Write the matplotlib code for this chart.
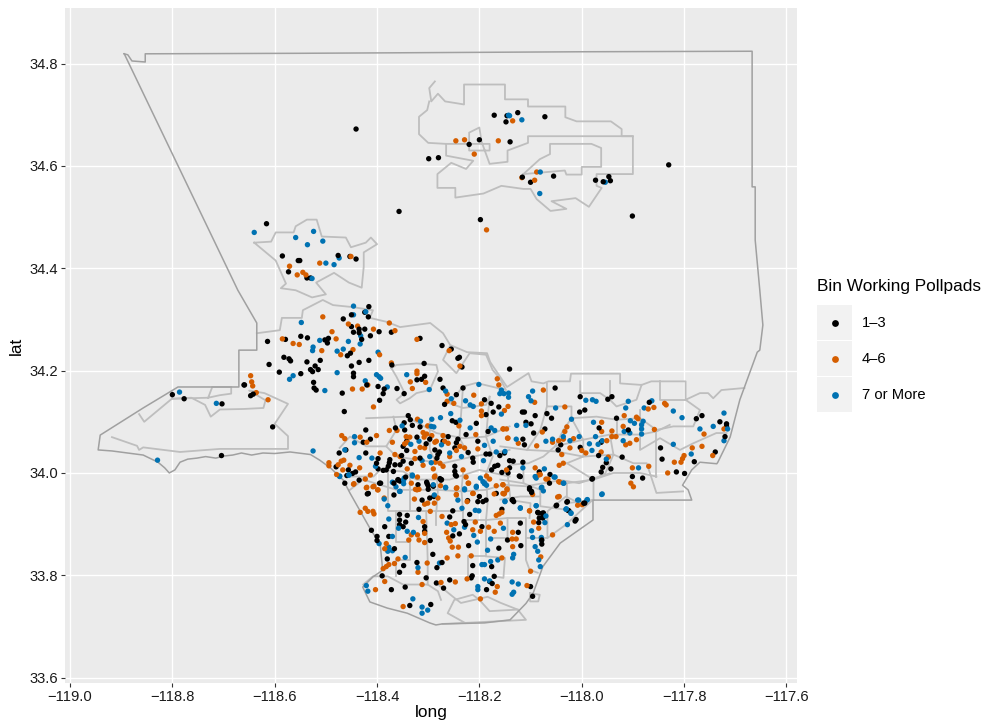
import matplotlib
matplotlib.use("Agg")
import matplotlib.pyplot as plt
from matplotlib.patches import Rectangle

plt.rcParams['font.family'] = ['Liberation Sans', 'DejaVu Sans']

# polling places (long, lat)
black_pts = [
    (-118.416,34.325),(-118.424,34.314),(-118.417,34.305),(-118.466,34.301),(-118.450,34.309),(-118.450,34.286),
    (-118.435,34.281),(-118.424,34.281),(-118.446,34.275),(-118.435,34.274),(-118.413,34.268),(-118.396,34.276),
    (-118.372,34.275),(-118.430,34.261),(-118.316,34.263),(-118.614,34.257),(-118.579,34.261),(-118.549,34.267),
    (-118.536,34.264),(-118.495,34.263),(-118.502,34.260),(-118.497,34.254),(-118.273,34.249),(-118.255,34.242),
    (-118.458,34.229),(-118.452,34.234),(-118.582,34.226),(-118.572,34.223),(-118.569,34.219),(-118.511,34.220),
    (-118.537,34.217),(-118.611,34.212),(-118.416,34.220),(-118.435,34.216),(-118.450,34.209),(-118.521,34.209),
    (-118.515,34.202),(-118.530,34.202),(-118.526,34.198),(-118.591,34.197),(-118.549,34.194),(-118.446,34.195),
    (-118.446,34.188),(-118.371,34.211),(-118.308,34.214),(-118.239,34.226),(-118.242,34.224),(-118.234,34.207),
    (-118.141,34.203),(-118.277,34.183),(-118.307,34.189),(-118.313,34.183),(-118.322,34.182),(-118.524,34.177),
    (-118.523,34.166),(-118.519,34.162),(-118.659,34.172),(-118.647,34.151),(-118.642,34.154),(-118.398,34.169),
    (-118.420,34.172),(-118.386,34.164),(-118.388,34.155),(-118.468,34.156),(-118.395,34.142),(-118.361,34.165),
    (-118.347,34.155),(-118.271,34.166),(-118.232,34.166),(-118.245,34.153),(-118.268,34.134),(-118.464,34.120),
    (-118.604,34.090),(-118.190,34.143),(-118.177,34.136),(-118.173,34.119),(-118.162,34.129),(-118.187,34.114),
    (-118.253,34.102),(-118.246,34.099),(-118.339,34.112),(-118.335,34.104),(-118.331,34.093),(-118.347,34.098),
    (-118.364,34.088),(-118.346,34.084),(-118.422,34.084),(-118.316,34.090),(-118.413,34.066),(-118.427,34.060),
    (-118.422,34.039),(-118.474,34.039),(-118.461,34.045),(-118.398,34.028),(-118.376,34.020),(-118.378,34.013),
    (-118.342,34.044),(-118.352,34.034),(-118.355,34.016),(-118.359,33.987),(-118.349,34.023),(-118.398,34.008),
    (-118.388,34.005),(-118.456,34.006),(-118.442,34.002),(-118.448,33.999),(-118.459,33.995),(-118.480,34.012),
    (-118.463,33.980),(-118.417,33.960),(-118.393,33.980),(-118.303,33.982),(-118.300,33.975),(-118.277,33.989),
    (-118.289,33.954),(-118.304,34.057),(-118.281,34.036),(-118.278,34.041),(-118.283,34.029),(-118.271,34.062),
    (-118.261,34.071),(-118.242,34.066),(-118.245,34.059),(-118.248,34.049),(-118.212,34.021),(-118.213,34.029),
    (-118.248,34.013),(-118.248,34.003),(-118.245,33.994),(-118.206,34.097),(-118.183,34.081),(-118.203,34.062),
    (-118.187,34.037),(-118.180,34.037),(-118.160,34.034),(-118.151,34.039),(-118.141,34.010),(-118.164,34.015),
    (-118.170,34.013),(-118.144,34.000),(-118.052,34.166),(-118.003,34.149),(-117.949,34.144),(-117.941,34.149),
    (-117.868,34.138),(-118.004,34.119),(-117.994,34.123),(-118.068,34.116),(-118.059,34.107),(-118.091,34.112),
    (-118.116,34.119),(-118.112,34.119),(-117.932,34.107),(-117.776,34.106),(-117.765,34.112),(-117.730,34.100),
    (-117.717,34.096),(-117.717,34.091),(-117.720,34.071),(-118.109,34.099),(-118.099,34.096),(-118.072,34.086),
    (-118.094,34.078),(-117.966,34.088),(-117.909,34.084),(-117.962,34.060),(-118.003,34.050),(-118.046,34.045),
    (-118.041,34.055),(-117.967,34.034),(-117.921,34.031),(-117.846,34.049),(-117.843,34.027),(-117.739,34.041),
    (-117.780,34.022),(-117.952,34.020),(-117.959,34.011),(-117.943,34.008),(-117.962,34.002),(-117.979,33.989),
    (-117.901,33.993),(-117.881,33.990),(-117.815,34.002),(-117.799,33.999),(-118.112,34.055),(-118.115,34.066),
    (-118.141,34.024),(-118.134,34.023),(-118.115,34.021),(-118.120,33.993),(-118.083,34.002),(-118.062,33.997),
    (-118.063,33.980),(-118.102,33.971),(-118.098,33.964),(-118.049,33.937),(-118.028,33.944),(-118.025,33.926),
    (-117.994,33.941),(-118.085,33.922),(-118.075,33.922),(-118.156,34.001),(-118.135,33.948),(-118.011,33.909),
    (-118.419,33.959),(-118.367,33.957),(-118.367,33.980),(-118.395,33.980),(-118.435,33.986),(-118.359,33.986),
    (-118.344,33.992),(-118.320,33.977),(-118.302,33.979),(-118.300,33.968),(-118.312,33.947),(-118.318,33.929),
    (-118.297,33.951),(-118.275,33.986),(-118.247,33.996),(-118.200,33.954),(-118.203,33.944),(-118.193,33.944),
    (-118.187,33.947),(-118.223,33.946),(-118.252,33.926),(-118.219,33.919),(-118.258,33.914),(-118.356,33.919),
    (-118.341,33.917),(-118.356,33.908),(-118.356,33.899),(-118.344,33.904),(-118.349,33.895),(-118.307,33.895),
    (-118.307,33.886),(-118.385,33.895),(-118.411,33.888),(-118.400,33.876),(-118.400,33.868),(-118.377,33.876),
    (-118.296,33.868),(-118.366,33.852),(-118.380,33.832),(-118.348,33.819),(-118.356,33.806),(-118.390,33.799),
    (-118.372,33.772),(-118.345,33.777),(-118.336,33.741),(-118.295,33.743),(-118.291,33.841),(-118.322,33.825),
    (-118.273,33.825),(-118.283,33.815),(-118.304,33.795),(-118.284,33.785),(-118.270,33.775),(-118.258,33.791),
    (-118.213,33.819),(-118.214,33.799),(-118.216,33.795),(-118.176,33.817),(-118.171,33.798),(-118.180,33.788),
    (-118.175,33.784),(-118.186,33.772),(-118.221,33.858),(-118.230,33.905),(-118.227,33.899),(-118.239,33.881),
    (-118.252,33.877),(-118.195,33.895),(-118.162,33.853),(-118.145,33.869),(-118.124,33.884),(-118.120,33.902),
    (-118.119,33.858),(-118.156,33.929),(-118.136,33.947),(-118.133,33.944),(-118.102,33.968),(-118.098,33.962),
    (-118.086,33.923),(-118.078,33.921),(-118.083,33.912),(-118.076,33.912),(-118.084,33.903),(-118.078,33.869),
    (-118.078,33.861),(-118.013,33.906),(-118.027,33.927),(-118.050,33.936),(-118.029,33.943),(-117.996,33.941),
    (-117.980,33.988),(-118.100,33.778),(-118.096,33.759),(-118.122,33.994),(-118.167,33.960),
    (-118.441,34.672),(-118.357,34.511),(-118.299,34.614),(-118.616,34.487),(-118.585,34.424),(-118.554,34.415),
    (-118.551,34.415),(-118.573,34.393),(-118.537,34.381),(-118.530,34.381),(-118.476,34.425),(-118.441,34.418),
    (-118.453,34.423),(-118.280,34.616),(-118.220,34.642),(-118.200,34.651),(-118.140,34.647),(-118.171,34.699),
    (-118.148,34.686),(-118.146,34.698),(-118.125,34.704),(-118.072,34.696),(-117.830,34.602),(-118.116,34.578),
    (-118.100,34.568),(-118.055,34.580),(-117.973,34.572),(-117.958,34.569),(-117.947,34.579),(-117.944,34.571),
    (-117.901,34.502),(-118.198,34.495),(-118.800,34.153),(-118.777,34.145),(-118.703,34.135),(-118.704,34.034),
    (-118.660,34.172),
    (-118.368,34.003),(-118.382,34.006),(-118.333,34.019),(-118.290,33.974),(-118.274,33.987),(-118.355,33.984),
    (-118.316,34.029),(-118.287,34.045),(-118.349,34.052),(-118.342,34.062),(-118.401,34.019),(-118.365,34.016),
    (-118.375,34.026),(-118.322,34.070),(-118.297,34.066),(-118.226,34.075),(-118.222,34.040),(-118.176,34.006),
]

orange_pts = [
    (-118.506,34.305),(-118.456,34.291),(-118.438,34.287),(-118.407,34.281),(-118.376,34.293),(-118.365,34.278),
    (-118.488,34.276),(-118.480,34.262),(-118.585,34.262),(-118.564,34.253),(-118.552,34.251),(-118.322,34.261),
    (-118.508,34.239),(-118.447,34.241),(-118.471,34.231),(-118.395,34.231),(-118.259,34.239),(-118.372,34.215),
    (-118.238,34.209),(-118.322,34.199),(-118.322,34.194),(-118.335,34.178),(-118.305,34.177),(-118.331,34.165),
    (-118.647,34.190),(-118.645,34.178),(-118.643,34.170),(-118.636,34.157),(-118.613,34.143),(-118.448,34.164),
    (-118.429,34.164),(-118.418,34.172),(-118.407,34.129),(-118.263,34.154),(-118.263,34.140),(-118.250,34.136),
    (-118.211,34.152),(-118.196,34.135),(-118.196,34.121),(-118.196,34.112),(-118.165,34.184),(-118.162,34.172),
    (-118.144,34.130),(-118.151,34.122),(-118.144,34.068),(-118.154,34.086),(-118.147,34.086),(-118.321,34.105),
    (-118.376,34.083),(-118.361,34.083),(-118.343,34.071),(-118.336,34.070),(-118.469,34.073),(-118.463,34.067),
    (-118.433,34.070),(-118.401,34.073),(-118.370,34.060),(-118.346,34.057),(-118.341,34.060),(-118.310,34.079),
    (-118.303,34.076),(-118.293,34.073),(-118.301,34.092),(-118.308,34.070),(-118.284,34.062),(-118.287,34.060),
    (-118.271,34.073),(-118.268,34.062),(-118.261,34.058),(-118.240,34.092),(-118.207,34.075),(-118.245,34.044),
    (-118.229,34.049),(-118.203,34.047),(-118.238,34.052),(-118.307,34.049),(-118.271,34.013),(-118.286,34.021),
    (-118.310,34.015),(-118.290,34.008),(-118.365,34.036),(-118.355,34.032),(-118.326,34.028),(-118.420,34.060),
    (-118.494,34.020),(-118.494,34.014),(-118.476,34.016),(-118.470,34.023),(-118.465,34.025),(-118.479,33.997),
    (-118.467,34.006),(-118.453,34.015),(-118.434,34.010),(-118.413,33.996),(-118.423,33.988),(-118.445,33.979),
    (-118.420,33.972),(-118.406,33.974),(-118.398,33.967),(-118.386,33.951),(-118.341,34.008),(-118.321,33.992),
    (-118.333,33.980),(-118.325,33.968),(-118.318,33.968),(-118.287,33.994),(-118.244,33.971),(-118.245,33.958),
    (-118.222,33.980),(-118.212,33.960),(-118.186,33.994),(-118.167,33.975),(-118.154,33.960),(-118.147,34.006),
    (-118.075,34.162),(-118.092,34.138),(-118.033,34.129),(-117.917,34.112),(-117.893,34.109),(-117.890,34.106),
    (-117.838,34.136),(-117.835,34.133),(-117.859,34.128),(-117.870,34.125),(-118.029,34.090),(-118.033,34.081),
    (-118.077,34.080),(-118.153,34.086),(-118.145,34.068),(-118.124,34.058),(-118.088,34.053),(-118.057,34.060),
    (-118.045,34.063),(-118.036,34.066),(-118.016,34.067),(-118.023,34.049),(-118.000,34.044),(-117.992,34.039),
    (-118.039,34.036),(-118.036,34.019),(-118.044,34.015),(-117.961,34.099),(-117.961,34.081),(-117.941,34.082),
    (-117.941,34.071),(-117.933,34.071),(-117.951,34.063),(-117.919,34.091),(-117.858,34.085),(-117.893,34.065),
    (-117.906,34.058),(-117.914,34.055),(-117.962,34.041),(-117.948,34.031),(-117.901,34.010),(-117.869,34.013),
    (-117.832,34.000),(-117.819,34.021),(-117.806,34.021),(-117.803,34.028),(-117.800,34.034),(-117.784,34.049),
    (-117.765,34.052),(-117.761,34.076),(-117.744,34.034),(-117.722,34.086),(-117.904,33.980),(-117.899,33.973),
    (-118.091,34.010),(-118.081,33.997),(-118.066,33.988),(-118.043,33.982),(-118.154,33.977),(-118.146,33.967),
    (-118.151,33.960),(-118.096,33.958),(-118.044,33.954),(-118.008,33.937),(-118.102,33.926),
    (-118.446,33.978),(-118.421,33.971),(-118.408,33.973),(-118.399,33.967),(-118.423,33.931),(-118.433,33.923),
    (-118.418,33.925),(-118.408,33.925),(-118.406,33.920),(-118.322,33.967),(-118.327,33.949),(-118.307,33.939),
    (-118.296,33.925),(-118.301,33.941),(-118.288,33.941),(-118.281,33.951),(-118.310,33.905),(-118.307,33.882),
    (-118.321,33.879),(-118.333,33.879),(-118.338,33.869),(-118.318,33.869),(-118.307,33.864),(-118.273,33.915),
    (-118.255,33.899),(-118.247,33.901),(-118.264,33.884),(-118.260,33.873),(-118.257,33.867),(-118.253,33.855),
    (-118.241,33.855),(-118.242,33.838),(-118.263,33.834),(-118.216,33.838),(-118.302,33.824),(-118.320,33.806),
    (-118.359,33.832),(-118.366,33.823),(-118.377,33.821),(-118.388,33.813),(-118.382,33.817),(-118.382,33.862),
    (-118.385,33.852),(-118.385,33.788),(-118.403,33.772),(-118.349,33.739),(-118.312,33.782),(-118.275,33.786),
    (-118.247,33.787),(-118.224,33.793),(-118.165,33.778),(-118.169,33.767),(-118.198,33.754),(-118.107,33.780),
    (-118.100,33.808),(-118.156,33.834),(-118.136,33.871),(-118.128,33.871),(-118.135,33.884),(-118.135,33.856),
    (-118.057,33.879),(-118.159,33.902),(-118.171,33.886),(-118.182,33.894),(-118.213,33.889),(-118.198,33.886),
    (-118.208,33.904),(-118.167,33.917),(-118.161,33.920),(-118.156,33.923),(-118.102,33.926),(-118.094,33.904),
    (-118.084,33.892),(-118.080,33.836),(-117.999,33.938),(-118.047,33.953),(-118.213,33.960),(-118.245,33.970),
    (-118.245,33.957),(-118.224,33.944),(-118.221,33.980),(-118.226,33.992),(-118.180,33.988),(-118.154,33.977),
    (-118.146,33.969),(-118.152,33.959),(-118.171,33.959),(-118.084,33.996),(-118.070,33.988),(-118.045,33.983),
    (-118.288,33.992),(-118.276,33.975),
    (-118.571,34.404),(-118.556,34.387),(-118.545,34.392),(-118.539,34.387),(-118.512,34.410),(-118.451,34.423),
    (-118.246,34.649),(-118.229,34.651),(-118.210,34.623),(-118.163,34.649),(-118.135,34.688),(-118.088,34.588),
    (-118.092,34.572),(-118.117,34.577),(-118.186,34.475),
    (-118.326,34.042),(-118.394,34.039),(-118.277,34.019),(-118.232,34.006),(-118.258,34.032),(-118.316,34.050),
]

blue_pts = [
    (-118.446,34.326),(-118.446,34.309),(-118.422,34.315),(-118.548,34.294),(-118.432,34.268),(-118.512,34.259),
    (-118.456,34.257),(-118.433,34.252),(-118.525,34.246),(-118.526,34.239),(-118.466,34.242),(-118.478,34.238),
    (-118.398,34.236),(-118.478,34.196),(-118.564,34.190),(-118.571,34.183),(-118.401,34.192),(-118.396,34.188),
    (-118.393,34.185),(-118.423,34.180),(-118.380,34.168),(-118.502,34.161),(-118.342,34.192),(-118.298,34.163),
    (-118.266,34.160),(-118.255,34.145),(-118.227,34.141),(-118.218,34.133),(-118.212,34.130),(-118.256,34.116),
    (-118.276,34.108),(-118.238,34.103),(-118.293,34.105),(-118.315,34.101),(-118.294,34.091),(-118.289,34.090),
    (-118.351,34.092),(-118.444,34.071),(-118.444,34.059),(-118.525,34.043),(-118.463,34.045),(-118.435,34.030),
    (-118.410,34.029),(-118.403,34.013),(-118.473,33.994),(-118.455,33.996),(-118.370,33.982),(-118.363,33.973),
    (-118.355,33.964),(-118.347,33.990),(-118.331,33.996),(-118.348,33.979),(-118.334,34.056),(-118.318,34.062),
    (-118.312,34.024),(-118.294,34.020),(-118.274,34.055),(-118.218,34.088),(-118.201,34.173),(-118.157,34.162),
    (-118.152,34.155),(-118.143,34.148),(-118.160,34.155),(-118.157,34.115),(-118.177,34.088),(-118.170,34.083),
    (-118.173,34.062),(-118.190,34.054),(-118.167,34.041),(-118.192,34.024),(-118.198,33.990),(-118.190,33.980),
    (-118.186,33.976),(-118.206,33.974),(-118.229,33.969),(-118.266,33.972),
    (-117.992,34.142),(-117.979,34.143),(-117.972,34.140),(-117.909,34.140),(-117.863,34.141),(-117.878,34.127),
    (-117.914,34.127),(-117.821,34.121),(-117.804,34.108),(-118.051,34.127),(-118.096,34.160),(-118.104,34.149),
    (-118.099,34.141),(-118.143,34.156),(-118.020,34.105),(-117.977,34.099),(-117.905,34.102),(-117.897,34.097),
    (-117.880,34.101),(-117.883,34.094),(-117.883,34.086),(-117.883,34.076),(-117.917,34.081),(-117.906,34.078),
    (-117.769,34.086),(-117.743,34.091),(-117.715,34.086),(-117.722,34.063),(-117.722,34.117),(-118.127,34.093),
    (-118.109,34.093),(-118.005,34.071),(-117.973,34.071),(-117.960,34.063),(-117.968,34.056),(-117.985,34.057),
    (-117.980,34.044),(-118.023,34.063),(-118.036,34.071),(-118.057,34.066),(-118.070,34.062),(-118.128,34.066),
    (-117.919,34.063),(-117.821,34.056),(-117.786,34.037),(-117.889,34.010),(-117.952,34.027),(-118.073,34.008),
    (-118.115,34.010),(-118.091,33.993),(-118.052,33.992),(-118.035,33.980),(-118.078,33.972),(-118.075,33.965),
    (-118.150,34.042),(-118.006,33.947),(-117.989,33.948),(-117.960,33.959),(-118.150,33.945),(-118.120,33.932),
    (-118.089,33.936),(-118.030,33.930),(-118.021,33.922),
    (-118.386,33.949),(-118.379,33.936),(-118.377,33.910),(-118.358,33.892),(-118.341,33.886),(-118.329,33.884),
    (-118.370,33.876),(-118.396,33.862),(-118.377,33.855),(-118.379,33.847),(-118.370,33.848),(-118.345,33.835),
    (-118.320,33.815),(-118.278,33.824),(-118.421,33.780),(-118.418,33.769),(-118.330,33.754),(-118.312,33.738),
    (-118.301,33.732),(-118.312,33.726),(-118.319,33.913),(-118.263,33.902),(-118.250,33.889),(-118.229,33.894),
    (-118.211,33.878),(-118.204,33.865),(-118.178,33.871),(-118.184,33.849),(-118.190,33.821),(-118.195,33.821),
    (-118.178,33.827),(-118.164,33.830),(-118.190,33.793),(-118.180,33.789),(-118.203,33.778),(-118.203,33.772),
    (-118.136,33.787),(-118.124,33.783),(-118.133,33.767),(-118.136,33.763),(-118.135,33.834),(-118.133,33.841),
    (-118.153,33.892),(-118.098,33.887),(-118.096,33.874),(-118.079,33.874),(-118.079,33.868),(-118.091,33.856),
    (-118.086,33.847),(-118.084,33.830),(-118.081,33.817),(-118.028,33.899),(-118.021,33.921),(-118.031,33.929),
    (-118.070,33.916),(-118.072,33.903),(-118.089,33.936),(-118.120,33.931),(-118.150,33.944),(-118.208,33.927),
    (-118.201,33.926),(-118.234,33.931),(-118.242,33.947),(-118.206,33.972),(-118.190,33.979),(-118.193,33.983),
    (-118.229,33.967),(-118.266,33.971),(-118.288,33.957),(-118.290,33.977),(-118.369,33.981),(-118.356,33.964),
    (-118.348,33.986),(-118.331,33.994),(-118.455,33.996),(-118.473,33.993),(-118.008,33.947),(-117.990,33.947),
    (-117.961,33.958),(-118.036,33.980),(-118.079,33.971),(-118.089,33.990),(-118.054,33.992),
    (-118.640,34.470),(-118.559,34.460),(-118.524,34.472),(-118.536,34.446),(-118.506,34.453),(-118.500,34.410),
    (-118.484,34.407),(-118.474,34.420),(-118.527,34.380),(-118.143,34.699),(-118.141,34.698),(-118.117,34.690),
    (-118.081,34.588),(-118.082,34.546),(-117.954,34.568),(-118.786,34.158),(-118.714,34.136),(-118.829,34.025),
    (-118.297,34.032),(-118.258,34.039),(-118.235,34.032),
]

county_line = [
    (-118.894,34.819),(-118.887,34.817),(-118.879,34.805),(-118.853,34.803),(-118.853,34.819),(-118.550,34.820),
    (-118.355,34.821),(-118.000,34.823),(-117.667,34.824),(-117.667,34.559),(-117.661,34.559),(-117.661,34.455),
    (-117.652,34.357),(-117.646,34.289),(-117.652,34.240),(-117.657,34.236),(-117.691,34.143),(-117.710,34.070),
    (-117.734,34.021),(-117.736,34.018),(-117.769,34.021),(-117.785,34.006),(-117.803,33.976),(-117.792,33.967),
    (-117.785,33.947),(-117.978,33.947),(-117.978,33.908),(-118.042,33.863),(-118.076,33.817),(-118.095,33.765),
    (-118.109,33.745),(-118.140,33.713),(-118.190,33.707),(-118.273,33.705),(-118.285,33.703),(-118.297,33.707),
    (-118.341,33.726),(-118.380,33.736),(-118.414,33.748),(-118.428,33.777),(-118.408,33.797),(-118.389,33.810),
    (-118.394,33.863),(-118.410,33.885),(-118.453,33.961),(-118.466,33.986),(-118.490,34.009),(-118.512,34.025),
    (-118.530,34.036),(-118.570,34.041),(-118.600,34.038),(-118.623,34.039),(-118.645,34.035),(-118.665,34.039),
    (-118.682,34.035),(-118.700,34.033),(-118.715,34.029),(-118.735,34.032),(-118.752,34.029),(-118.770,34.027),
    (-118.785,34.021),(-118.795,34.006),(-118.806,34.000),(-118.815,34.010),(-118.828,34.021),(-118.857,34.035),
    (-118.918,34.043),(-118.945,34.045),(-118.941,34.074),(-118.857,34.127),(-118.789,34.168),(-118.670,34.168),
    (-118.670,34.240),(-118.635,34.240),(-118.635,34.293),(-118.672,34.357),(-118.894,34.819),
]

lancaster_line = [
    (-118.287,34.765),(-118.298,34.752),(-118.294,34.726),(-118.281,34.741),(-118.267,34.726),(-118.242,34.722),
    (-118.230,34.720),(-118.230,34.759),(-118.150,34.759),(-118.150,34.730),(-118.105,34.730),(-118.105,34.716),
    (-118.032,34.716),(-118.032,34.695),(-118.010,34.687),(-117.953,34.687),(-117.943,34.687),(-117.922,34.672),
    (-117.922,34.658),(-117.900,34.658),(-117.900,34.584),(-117.971,34.584),(-117.971,34.561),(-117.961,34.557),
    (-117.986,34.520),(-118.012,34.537),(-118.059,34.531),(-118.030,34.516),(-118.061,34.512),(-118.088,34.535),
    (-118.100,34.555),(-118.114,34.555),(-118.157,34.561),(-118.192,34.546),(-118.247,34.538),(-118.247,34.557),
    (-118.282,34.557),(-118.282,34.584),(-118.255,34.606),(-118.226,34.594),(-118.212,34.610),(-118.265,34.620),
    (-118.265,34.643),(-118.300,34.645),(-118.318,34.662),(-118.318,34.696),(-118.302,34.709),(-118.298,34.726),
]
palmdale_line = [
    (-118.265,34.643),(-118.180,34.643),(-118.180,34.630),(-118.220,34.630),(-118.220,34.665),(-118.200,34.675),
    (-118.196,34.648),(-118.180,34.604),(-118.145,34.608),(-118.145,34.630),(-118.105,34.645),(-118.105,34.658),
    (-117.900,34.658),
]
quartz_hill_line = [
    (-118.114,34.584),(-118.082,34.613),(-118.062,34.623),(-118.062,34.643),(-117.981,34.643),(-117.962,34.635),
    (-117.962,34.598),(-118.000,34.598),(-118.000,34.583),(-118.030,34.583),(-118.033,34.591),(-118.114,34.584),
]
santa_clarita_line = [
    (-118.640,34.450),(-118.607,34.452),(-118.598,34.470),(-118.563,34.470),(-118.559,34.482),(-118.537,34.495),
    (-118.518,34.495),(-118.508,34.462),(-118.461,34.460),(-118.451,34.441),(-118.422,34.450),(-118.412,34.460),
    (-118.400,34.447),(-118.426,34.431),(-118.426,34.403),(-118.430,34.362),(-118.455,34.372),(-118.484,34.391),
    (-118.519,34.372),(-118.500,34.349),(-118.527,34.343),(-118.559,34.357),(-118.588,34.361),(-118.578,34.370),
    (-118.598,34.415),(-118.640,34.450),
]
la_north_line = [
    (-118.635,34.273),(-118.590,34.279),(-118.586,34.303),(-118.547,34.303),(-118.545,34.318),(-118.506,34.338),
    (-118.486,34.328),(-118.447,34.324),(-118.408,34.318),(-118.414,34.303),(-118.380,34.295),(-118.355,34.285),
    (-118.296,34.293),(-118.271,34.273),(-118.257,34.250),(-118.224,34.236),(-118.185,34.234),(-118.179,34.217),
    (-118.146,34.168),(-118.104,34.195),(-118.098,34.179),(-118.075,34.175),(-118.065,34.179),(-118.023,34.179),
    (-118.021,34.194),(-117.925,34.194),(-117.925,34.175),(-117.883,34.172),(-117.864,34.179),(-117.847,34.179),
    (-117.797,34.179),(-117.797,34.143),(-117.769,34.156),(-117.753,34.156),(-117.743,34.146),(-117.727,34.162),
    (-117.682,34.166),
]
malibu_line = [
    (-118.918,34.070),(-118.869,34.053),(-118.865,34.045),(-118.857,34.050),(-118.785,34.041),(-118.707,34.047),
    (-118.684,34.047),(-118.600,34.047),(-118.574,34.047),(-118.574,34.072),(-118.600,34.096),(-118.574,34.135),
    (-118.620,34.156),(-118.650,34.161),(-118.618,34.142),(-118.622,34.127),(-118.661,34.125),(-118.707,34.124),
    (-118.725,34.110),(-118.736,34.133),(-118.763,34.147),(-118.800,34.145),(-118.801,34.160),
]
agoura_line = [
    (-118.865,34.115),(-118.855,34.100),(-118.801,34.145),(-118.730,34.147),(-118.722,34.168),(-118.685,34.168),
    (-118.685,34.155),(-118.707,34.152),(-118.730,34.147),
]
glendale_line = [
    (-118.372,34.205),(-118.362,34.211),(-118.323,34.214),(-118.284,34.211),(-118.281,34.198),(-118.297,34.162),
    (-118.323,34.156),(-118.336,34.146),(-118.355,34.136),(-118.362,34.143),(-118.346,34.156),(-118.362,34.188),
    (-118.372,34.205),
]
pasadena_line = [
    (-118.258,34.247),(-118.271,34.221),(-118.245,34.195),(-118.219,34.234),(-118.187,34.231),(-118.174,34.201),
    (-118.160,34.185),(-118.148,34.162),(-118.206,34.176),(-118.232,34.169),(-118.258,34.136),(-118.232,34.127),
    (-118.187,34.133),(-118.180,34.149),
]
hollywood_line = [
    (-118.421,34.107),(-118.342,34.110),(-118.284,34.078),(-118.232,34.068),(-118.187,34.071),(-118.141,34.091),
]
westside_line = [
    (-118.473,34.049),(-118.453,34.071),(-118.421,34.052),(-118.382,34.052),(-118.362,34.032),(-118.323,34.026),
    (-118.271,34.019),(-118.213,34.032),(-118.141,34.045),
]
culver_line = [
    (-118.453,33.993),(-118.407,33.993),(-118.394,34.006),(-118.349,34.003),(-118.323,33.987),(-118.258,33.987),
    (-118.200,34.006),(-118.141,33.993),
]
south_a_line = [(-118.453,33.967),(-118.427,33.987),(-118.362,33.967),(-118.284,33.967),(-118.232,33.964),(-118.187,33.967),
                (-118.154,33.977),(-118.109,33.974),(-118.041,33.986),(-118.005,33.980),(-117.946,33.999)]
south_b_line = [(-118.379,33.999),(-118.379,33.925),(-118.336,33.925),(-118.304,33.925),(-118.284,33.925),(-118.284,33.899)]
south_c_line = [(-118.284,33.925),(-118.232,33.925),(-118.232,33.908),(-118.187,33.908),(-118.187,33.837),(-118.223,33.837),
                (-118.223,33.791)]
south_d_line = [(-118.187,33.908),(-118.145,33.912),(-118.145,33.873),(-118.177,33.873)]
south_e_line = [(-118.145,33.912),(-118.109,33.912),(-118.109,33.873),(-118.067,33.873),(-118.067,33.925),(-118.031,33.954),
                (-118.005,33.941),(-117.979,33.947)]
south_f_line = [(-118.109,33.873),(-118.109,33.830),(-118.102,33.811),(-118.086,33.805)]
south_g_line = [(-118.067,33.873),(-118.031,33.899),(-117.979,33.947)]
south_h_line = [(-118.187,33.837),(-118.150,33.834),(-118.153,33.795),(-118.171,33.798)]
south_i_line = [(-118.427,33.782),(-118.408,33.798),(-118.379,33.798),(-118.349,33.782),(-118.301,33.782),(-118.281,33.769),
                (-118.275,33.752)]
south_j_line = [(-118.362,33.925),(-118.362,33.866),(-118.336,33.866),(-118.336,33.830),(-118.362,33.830),(-118.362,33.798)]
south_k_line = [(-118.304,33.925),(-118.301,33.830),(-118.301,33.782)]
south_l_line = [(-118.284,33.999),(-118.281,33.967),(-118.284,33.925)]
south_m_line = [(-118.232,33.999),(-118.235,33.967),(-118.232,33.925)]
south_n_line = [(-118.187,33.999),(-118.184,33.941),(-118.187,33.908)]
south_o_line = [(-118.336,33.999),(-118.336,33.925)]
south_p_line = [(-118.145,33.999),(-118.139,33.947),(-118.100,33.941),(-118.102,33.912)]
harbor_line = [(-118.281,33.782),(-118.265,33.769),(-118.249,33.756),(-118.236,33.746),(-118.184,33.758),(-118.158,33.746),
               (-118.125,33.733),(-118.109,33.713),(-118.228,33.707),(-118.272,33.705)]
harbor_b_line = [(-118.228,33.707),(-118.262,33.726),(-118.249,33.752),(-118.213,33.762),(-118.200,33.752),(-118.180,33.730),
                 (-118.125,33.733)]
seal_line = [(-118.101,33.765),(-118.082,33.762),(-118.085,33.749),(-118.101,33.749),(-118.101,33.765)]
east_a_line = [(-118.068,34.175),(-118.068,34.130),(-118.020,34.130),(-118.020,34.107),(-118.036,34.084),(-118.052,34.052),
               (-118.075,34.032),(-118.104,34.019),(-118.140,34.016)]
east_b_line = [(-118.003,34.179),(-118.003,34.156),(-117.964,34.156),(-117.945,34.143),(-117.932,34.130),(-117.893,34.143),
               (-117.883,34.172)]
east_c_line = [(-118.020,34.107),(-117.971,34.110),(-117.932,34.104),(-117.886,34.107),(-117.854,34.084),(-117.821,34.091),
               (-117.782,34.091),(-117.769,34.123),(-117.797,34.143)]
east_d_line = [(-118.052,34.052),(-117.997,34.065),(-117.945,34.075),(-117.886,34.075),(-117.854,34.081),(-117.828,34.094)]
east_e_line = [(-117.886,34.123),(-117.886,34.045),(-117.847,34.068),(-117.808,34.045),(-117.782,34.058),(-117.737,34.078),
               (-117.717,34.078)]
east_f_line = [(-118.049,34.042),(-117.997,34.032),(-117.938,34.036),(-117.899,34.019),(-117.873,34.019),(-117.854,33.961),
               (-117.802,33.964)]
east_g_line = [(-117.977,33.947),(-117.977,33.987),(-117.938,34.000),(-117.886,34.000),(-117.854,33.993)]
east_h_line = [(-118.029,34.019),(-117.977,33.987),(-118.029,33.980),(-118.029,33.941),(-117.977,33.947)]
east_i_line = [(-118.159,34.052),(-118.107,34.045),(-118.049,34.042)]
east_j_line = [(-118.114,34.019),(-118.114,33.980),(-118.081,33.967),(-118.081,33.935),(-118.029,33.928)]
east_k_line = [(-118.159,33.987),(-118.114,33.980)]
east_l_line = [(-118.159,33.948),(-118.120,33.954),(-118.081,33.954)]
east_m_line = [(-117.945,34.179),(-117.945,34.143)]
east_n_line = [(-117.847,34.179),(-117.847,34.143),(-117.797,34.143)]
east_o_line = [(-118.068,34.130),(-118.081,34.084),(-118.107,34.045)]
east_p_line = [(-118.020,34.107),(-117.997,34.065),(-117.997,34.032),(-118.029,34.019)]
east_q_line = [(-117.945,34.075),(-117.938,34.036),(-117.954,33.999),(-117.977,33.987)]
east_r_line = [(-117.932,34.104),(-117.932,34.075)]
east_s_line = [(-117.854,34.081),(-117.854,34.050),(-117.854,33.993)]
mid_a_line = [(-118.368,34.110),(-118.362,34.084),(-118.382,34.052)]
mid_b_line = [(-118.297,34.100),(-118.297,34.045),(-118.284,34.019)]
mid_c_line = [(-118.232,34.169),(-118.239,34.068),(-118.219,34.032)]
mid_d_line = [(-118.180,34.149),(-118.187,34.071),(-118.174,34.032),(-118.187,33.999)]

city_lines = [lancaster_line, palmdale_line, quartz_hill_line, santa_clarita_line, la_north_line, malibu_line, agoura_line,
              glendale_line, pasadena_line, hollywood_line, westside_line, culver_line, south_a_line, south_b_line,
              south_c_line, south_d_line, south_e_line, south_f_line, south_g_line, south_h_line, south_i_line,
              south_j_line, south_k_line, south_l_line, south_m_line, south_n_line, south_o_line, south_p_line,
              harbor_line, harbor_b_line, seal_line, east_a_line, east_b_line, east_c_line, east_d_line, east_e_line,
              east_f_line, east_g_line, east_h_line, east_i_line, east_j_line, east_k_line, east_l_line, east_m_line,
              east_n_line, east_o_line, east_p_line, east_q_line, east_r_line, east_s_line, mid_a_line, mid_b_line,
              mid_c_line, mid_d_line]

bin_labels = ['1\u20133', '4\u20136', '7 or More']
bin_colors = ['#000000', '#D55E00', '#0072B2']
x_ticks = [-119.0, -118.8, -118.6, -118.4, -118.2, -118.0, -117.8, -117.6]
y_ticks = [33.6, 33.8, 34.0, 34.2, 34.4, 34.6, 34.8]

fig = plt.figure(figsize=(9.85, 7.23), dpi=100)
ax = fig.add_axes([65 / 985, 1 - 683 / 723, 732 / 985, 675 / 723])
ax.set_facecolor('#EBEBEB')
for s in ax.spines.values():
    s.set_visible(False)
ax.set_xlim(-119.0098, -117.5793)
ax.set_ylim(33.5896, 34.9085)
ax.grid(True, color='white', linewidth=1.0)
ax.set_axisbelow(True)

ax.set_xticks(x_ticks)
ax.set_yticks(y_ticks)
ax.set_xticklabels(['\u2212%.1f' % abs(v) for v in x_ticks])
ax.set_yticklabels(['%.1f' % v for v in y_ticks])
ax.tick_params(length=3, width=0.8, color='#333333', labelsize=10.6, labelcolor='#1a1a1a', pad=2)
ax.set_xlabel('long', fontsize=12.4, labelpad=1)
ax.set_ylabel('lat', fontsize=12.4, labelpad=4)

# city boundaries under the county outline
for line in city_lines:
    ax.plot([p[0] for p in line], [p[1] for p in line], color='#BEBEBE', linewidth=1.3, solid_joinstyle='round', zorder=2)
ax.plot([p[0] for p in county_line], [p[1] for p in county_line], color='#A0A0A0', linewidth=1.1, zorder=3)

# one scatter so the colours overlap each other in a mixed order
pts = []
for group, col in zip([black_pts, orange_pts, blue_pts], bin_colors):
    pts += [(p[0], p[1], col) for p in group]
pts.sort(key=lambda p: (p[0] * 1000) % 7)
ax.scatter([p[0] for p in pts], [p[1] for p in pts], c=[p[2] for p in pts], s=15, linewidths=0, zorder=4, clip_on=False)

# legend drawn by hand in figure pixels
leg = fig.add_axes([0, 0, 1, 1])
leg.set_xlim(0, 985)
leg.set_ylim(723, 0)
leg.axis('off')
leg.text(817, 287, 'Bin Working Pollpads', fontsize=12.45, va='center', ha='left', color='black')
for i, (lab, col) in enumerate(zip(bin_labels, bin_colors)):
    top = 305 + i * 36
    leg.add_patch(Rectangle((817, top), 35, 35, facecolor='#F2F2F2', edgecolor='none'))
    leg.scatter([834.5], [top + 17.5], s=24, color=col, linewidths=0)
    leg.text(862, top + 18, lab, fontsize=10.6, va='center', ha='left', color='black')

fig.savefig('out.png', dpi=100)
